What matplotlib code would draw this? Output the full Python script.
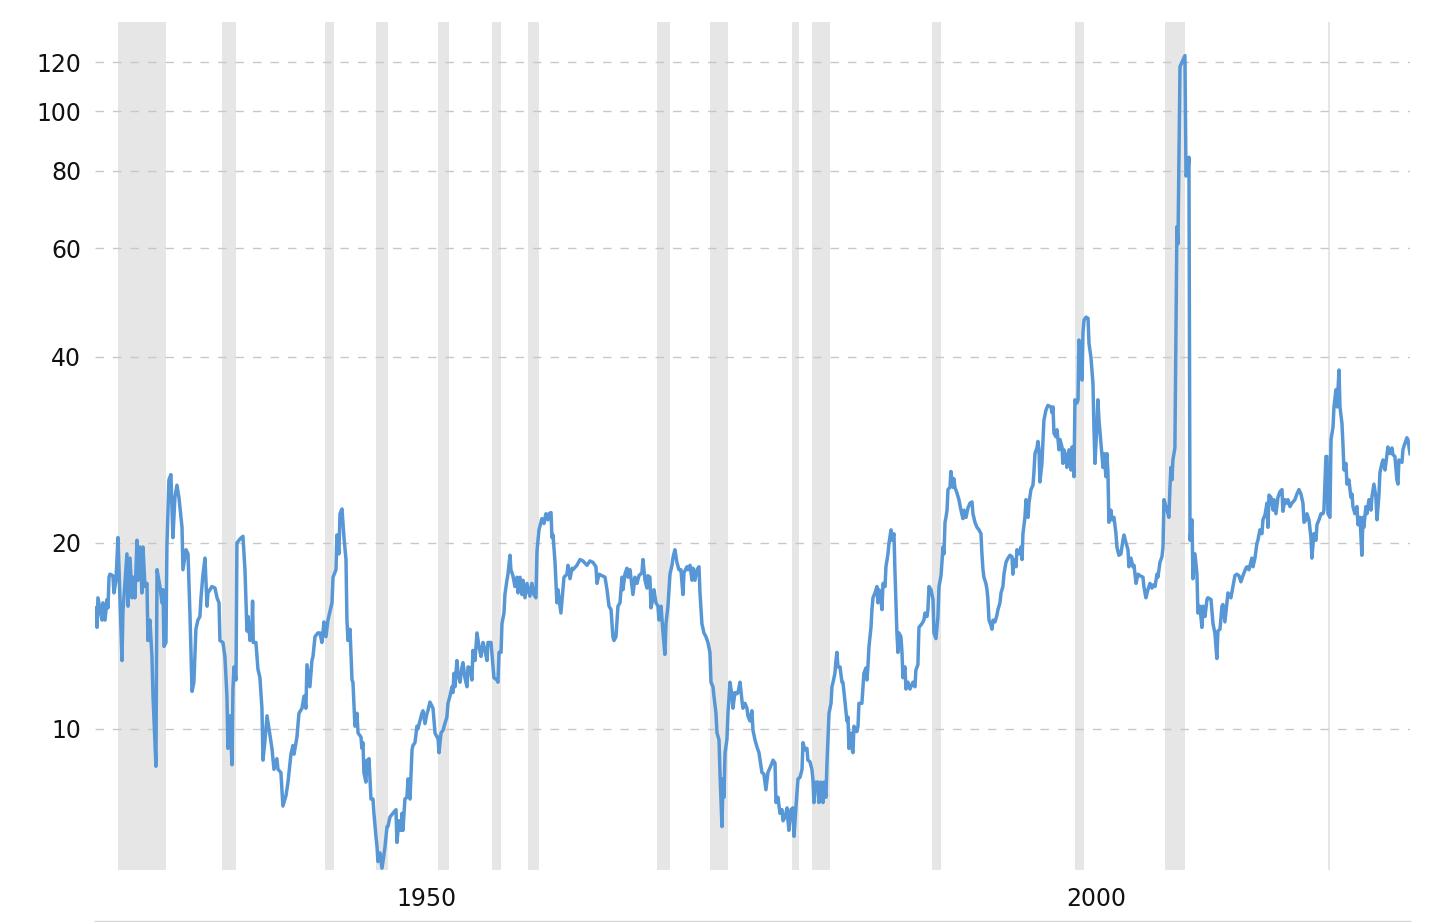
import matplotlib.pyplot as plt
from matplotlib.ticker import NullLocator

# S&P 500 price / earnings ratio
years = [
    1927.88, 1928.03, 1928.10, 1928.40, 1928.48, 1928.63, 1928.78, 1928.85, 1928.93, 1929.00,
    1929.22, 1929.30, 1929.45, 1929.60, 1929.90, 1929.97, 1930.27, 1930.35, 1930.50, 1930.65,
    1930.72, 1930.87, 1931.02, 1931.09, 1931.25, 1931.39, 1931.47, 1931.62, 1931.77, 1931.84,
    1931.99, 1932.14, 1932.22, 1932.44, 1932.52, 1932.74, 1932.89, 1932.97, 1933.04, 1933.19,
    1933.26, 1933.41, 1933.56, 1933.71, 1933.86, 1934.01, 1934.16, 1934.39, 1934.46, 1934.69,
    1934.84, 1934.99, 1935.14, 1935.28, 1935.43, 1935.58, 1935.73, 1935.81, 1935.96, 1936.11,
    1936.26, 1936.33, 1936.63, 1936.86, 1937.01, 1937.16, 1937.23, 1937.45, 1937.60, 1937.75,
    1937.83, 1937.98, 1938.13, 1938.20, 1938.28, 1938.43, 1938.50, 1938.73, 1938.95, 1939.10,
    1939.25, 1939.33, 1939.48, 1939.62, 1939.67, 1939.72, 1939.92, 1940.07, 1940.22, 1940.37,
    1940.45, 1940.60, 1940.75, 1940.90, 1941.12, 1941.27, 1941.49, 1941.57, 1941.79, 1941.94,
    1942.17, 1942.32, 1942.54, 1942.69, 1942.77, 1942.99, 1943.14, 1943.37, 1943.52, 1943.66,
    1943.74, 1943.96, 1944.11, 1944.19, 1944.34, 1944.56, 1944.71, 1944.86, 1945.01, 1945.16,
    1945.31, 1945.61, 1945.69, 1945.91, 1945.98, 1946.13, 1946.21, 1946.36, 1946.51, 1946.66,
    1946.73, 1946.81, 1946.96, 1947.11, 1947.18, 1947.33, 1947.48, 1947.56, 1947.78, 1947.85,
    1947.93, 1948.00, 1948.15, 1948.23, 1948.30, 1948.38, 1948.53, 1948.68, 1948.75, 1948.90,
    1948.98, 1949.05, 1949.20, 1949.35, 1949.43, 1949.58, 1949.73, 1949.80, 1949.95, 1950.17,
    1950.40, 1950.47, 1950.62, 1950.77, 1950.85, 1950.92, 1951.07, 1951.22, 1951.30, 1951.45,
    1951.60, 1951.67, 1951.82, 1951.97, 1952.04, 1952.19, 1952.34, 1952.42, 1952.57, 1952.72,
    1952.79, 1952.94, 1953.17, 1953.32, 1953.47, 1953.54, 1953.62, 1953.77, 1953.92, 1954.06,
    1954.21, 1954.29, 1954.44, 1954.59, 1954.66, 1954.74, 1954.81, 1954.96, 1955.04, 1955.19,
    1955.34, 1955.41, 1955.56, 1955.71, 1955.79, 1955.94, 1956.08, 1956.16, 1956.31, 1956.46,
    1956.61, 1956.76, 1956.91, 1957.06, 1957.21, 1957.28, 1957.51, 1957.66, 1957.73, 1957.96,
    1958.03, 1958.11, 1958.26, 1958.33, 1958.48, 1958.55, 1958.70, 1958.78, 1958.93, 1959.00,
    1959.15, 1959.30, 1959.45, 1959.53, 1959.68, 1959.83, 1959.90, 1960.05, 1960.20, 1960.42,
    1960.57, 1960.72, 1960.87, 1960.95, 1961.10, 1961.32, 1961.47, 1961.62, 1961.77, 1961.85,
    1962.00, 1962.07, 1962.15, 1962.30, 1962.44, 1962.52, 1962.67, 1962.74, 1962.89, 1962.97,
    1963.19, 1963.27, 1963.42, 1963.57, 1963.64, 1963.94, 1964.17, 1964.39, 1964.69, 1964.91,
    1965.14, 1965.36, 1965.44, 1965.59, 1965.81, 1966.04, 1966.19, 1966.34, 1966.49, 1966.63,
    1966.71, 1966.86, 1967.01, 1967.16, 1967.31, 1967.38, 1967.53, 1967.68, 1967.76, 1967.91,
    1968.13, 1968.28, 1968.43, 1968.58, 1968.80, 1968.88, 1969.03, 1969.18, 1969.25, 1969.40,
    1969.48, 1969.63, 1969.70, 1969.85, 1970.00, 1970.08, 1970.23, 1970.38, 1970.52, 1970.60,
    1970.75, 1970.90, 1971.05, 1971.12, 1971.27, 1971.42, 1971.57, 1971.72, 1971.87, 1971.95,
    1972.17, 1972.25, 1972.40, 1972.55, 1972.62, 1972.77, 1972.92, 1973.07, 1973.14, 1973.29,
    1973.44, 1973.59, 1973.74, 1973.89, 1973.97, 1974.12, 1974.19, 1974.34, 1974.42, 1974.57,
    1974.64, 1974.79, 1974.87, 1974.94, 1975.02, 1975.16, 1975.24, 1975.39, 1975.54, 1975.61,
    1975.76, 1975.91, 1975.99, 1976.14, 1976.29, 1976.36, 1976.51, 1976.66, 1976.73, 1976.88,
    1977.03, 1977.11, 1977.26, 1977.41, 1977.56, 1977.78, 1977.93, 1978.08, 1978.23, 1978.53,
    1978.61, 1978.76, 1978.83, 1978.98, 1979.13, 1979.28, 1979.36, 1979.51, 1979.66, 1979.73,
    1979.80, 1979.95, 1980.10, 1980.18, 1980.33, 1980.48, 1980.63, 1980.78, 1980.85, 1981.00,
    1981.15, 1981.22, 1981.37, 1981.52, 1981.60, 1981.67, 1981.82, 1981.97, 1982.05, 1982.20,
    1982.35, 1982.42, 1982.57, 1982.65, 1982.80, 1982.95, 1983.02, 1983.10, 1983.24, 1983.32,
    1983.39, 1983.47, 1983.62, 1983.77, 1983.84, 1983.99, 1984.14, 1984.22, 1984.29, 1984.44,
    1984.52, 1984.59, 1984.67, 1984.89, 1984.97, 1985.04, 1985.26, 1985.34, 1985.41, 1985.56,
    1985.64, 1985.71, 1985.79, 1985.94, 1986.01, 1986.09, 1986.24, 1986.39, 1986.46, 1986.54,
    1986.69, 1986.76, 1986.84, 1986.99, 1987.06, 1987.21, 1987.29, 1987.44, 1987.51, 1987.66,
    1987.73, 1987.88, 1987.96, 1988.03, 1988.18, 1988.26, 1988.33, 1988.48, 1988.56, 1988.71,
    1988.86, 1989.08, 1989.23, 1989.30, 1989.45, 1989.53, 1989.75, 1989.90, 1989.98, 1990.13,
    1990.20, 1990.28, 1990.43, 1990.58, 1990.65, 1990.80, 1990.95, 1991.03, 1991.18, 1991.33,
    1991.40, 1991.48, 1991.55, 1991.63, 1991.70, 1991.85, 1991.92, 1992.07, 1992.15, 1992.22,
    1992.37, 1992.52, 1992.67, 1992.82, 1992.90, 1993.05, 1993.20, 1993.35, 1993.50, 1993.57,
    1993.72, 1993.87, 1994.02, 1994.17, 1994.24, 1994.32, 1994.39, 1994.54, 1994.62, 1994.69,
    1994.77, 1994.92, 1994.99, 1995.07, 1995.22, 1995.37, 1995.44, 1995.59, 1995.67, 1995.81,
    1995.89, 1996.04, 1996.19, 1996.34, 1996.49, 1996.56, 1996.64, 1996.79, 1996.86, 1997.01,
    1997.16, 1997.24, 1997.31, 1997.46, 1997.54, 1997.69, 1997.76, 1997.91, 1998.06, 1998.13,
    1998.21, 1998.36, 1998.43, 1998.51, 1998.58, 1998.73, 1998.81, 1998.88, 1999.03, 1999.18,
    1999.41, 1999.48, 1999.56, 1999.63, 1999.78, 1999.86, 2000.01, 2000.08, 2000.23, 2000.30,
    2000.38, 2000.53, 2000.60, 2000.75, 2000.90, 2000.98, 2001.13, 2001.17, 2001.20, 2001.35,
    2001.43, 2001.50, 2001.65, 2001.73, 2001.80, 2001.88, 2002.03, 2002.18, 2002.25, 2002.40,
    2002.55, 2002.62, 2002.70, 2002.85, 2002.92, 2003.00, 2003.15, 2003.30, 2003.37, 2003.52,
    2003.59, 2003.67, 2003.74, 2003.89, 2003.97, 2004.12, 2004.27, 2004.34, 2004.49, 2004.64,
    2004.79, 2004.87, 2005.02, 2005.17, 2005.24, 2005.39, 2005.54, 2005.62, 2005.77, 2005.92,
    2006.07, 2006.29, 2006.36, 2006.51, 2006.66, 2006.81, 2006.96, 2007.04, 2007.19, 2007.34,
    2007.41, 2007.56, 2007.71, 2007.79, 2007.86, 2008.01, 2008.09, 2008.23, 2008.31, 2008.38,
    2008.46, 2008.53, 2008.61, 2008.68, 2008.83, 2008.91, 2009.06, 2009.21, 2009.28, 2009.43,
    2009.51, 2009.66, 2009.73, 2009.81, 2009.96, 2010.03, 2010.18, 2010.33, 2010.40, 2010.55,
    2010.70, 2010.78, 2010.93, 2011.08, 2011.15, 2011.38, 2011.53, 2011.67, 2011.82, 2011.90,
    2012.05, 2012.20, 2012.27, 2012.42, 2012.57, 2012.65, 2012.87, 2013.02, 2013.17, 2013.32,
    2013.47, 2013.62, 2013.77, 2013.99, 2014.07, 2014.22, 2014.44, 2014.52, 2014.67, 2014.82,
    2014.89, 2015.04, 2015.19, 2015.27, 2015.42, 2015.57, 2015.64, 2015.72, 2015.87, 2016.02,
    2016.09, 2016.24, 2016.39, 2016.54, 2016.69, 2016.76, 2016.91, 2017.06, 2017.14, 2017.29,
    2017.44, 2017.66, 2017.81, 2017.96, 2018.11, 2018.26, 2018.34, 2018.49, 2018.56, 2018.71,
    2018.86, 2018.93, 2019.08, 2019.23, 2019.31, 2019.46, 2019.61, 2019.76, 2019.83, 2019.98,
    2020.06, 2020.13, 2020.28, 2020.36, 2020.51, 2020.58, 2020.73, 2020.81, 2020.96, 2021.03,
    2021.18, 2021.25, 2021.33, 2021.48, 2021.55, 2021.70, 2021.85, 2021.93, 2022.00, 2022.15,
    2022.30, 2022.38, 2022.53, 2022.67, 2022.75, 2022.82, 2022.97, 2023.05, 2023.20, 2023.35,
    2023.42, 2023.57, 2023.72, 2023.80, 2023.95, 2024.02, 2024.17, 2024.25, 2024.40, 2024.55,
    2024.62, 2024.77, 2024.92, 2024.99, 2025.14, 2025.29, 2025.37, 2025.44, 2025.67, 2025.74,
    2025.89, 2026.04, 2026.11, 2026.27,
]

pe = [
    15.7, 14.6, 16.3, 15.0, 16.0, 15.0, 16.2, 15.7, 17.6, 17.8,
    17.7, 16.6, 17.4, 20.4, 12.9, 15.5, 19.2, 15.8, 18.9, 16.3,
    17.6, 16.3, 20.2, 17.4, 19.7, 16.6, 19.7, 17.0, 17.2, 13.9,
    15.0, 13.1, 11.3, 8.7, 18.1, 17.0, 16.0, 16.8, 13.6, 13.8,
    19.7, 25.3, 25.8, 20.4, 23.7, 24.8, 23.7, 21.2, 18.1, 19.5,
    19.2, 15.2, 11.5, 11.9, 14.5, 15.0, 15.2, 16.3, 17.8, 18.9,
    15.8, 16.6, 17.0, 16.9, 16.3, 16.0, 13.9, 13.8, 13.1, 11.3,
    9.3, 10.5, 8.75, 11.6, 12.6, 12.0, 20.0, 20.3, 20.5, 18.1,
    14.4, 15.2, 13.9, 14.6, 16.1, 13.8, 13.8, 12.5, 12.1, 10.8,
    8.9, 9.6, 10.5, 10.0, 9.3, 8.6, 8.95, 8.6, 8.5, 7.5,
    7.8, 8.2, 9.1, 9.4, 9.1, 9.7, 10.6, 10.8, 11.3, 10.8,
    12.7, 11.7, 12.9, 13.1, 14.1, 14.3, 14.3, 13.8, 14.9, 14.1,
    15.0, 16.0, 17.6, 18.1, 20.6, 19.2, 22.3, 22.7, 20.4, 18.8,
    15.0, 13.9, 14.5, 12.0, 11.9, 10.1, 10.6, 9.85, 9.7, 9.3,
    9.5, 8.5, 8.2, 8.9, 8.5, 8.95, 7.7, 7.7, 7.3, 6.7,
    6.45, 6.1, 6.3, 5.95, 6.1, 6.45, 6.95, 6.95, 7.2, 7.3,
    7.4, 6.55, 7.1, 6.85, 7.3, 6.85, 7.7, 7.75, 8.3, 7.7,
    9.25, 9.4, 9.5, 10.1, 10.0, 10.3, 10.6, 10.7, 10.2, 10.6,
    10.7, 11.05, 10.8, 9.85, 9.7, 9.7, 9.15, 9.85, 9.95, 10.2,
    10.45, 11.0, 11.3, 11.7, 11.45, 12.3, 11.7, 12.9, 12.3, 11.9,
    12.6, 12.8, 12.1, 11.7, 12.6, 12.55, 12.0, 13.4, 12.9, 14.3,
    13.6, 13.1, 13.8, 13.4, 12.9, 13.8, 13.8, 12.6, 12.1, 12.0,
    11.9, 13.3, 13.3, 14.8, 15.4, 16.5, 17.4, 17.8, 19.1, 18.1,
    17.7, 17.0, 17.6, 16.6, 17.6, 16.5, 17.4, 16.3, 17.2, 16.4,
    17.2, 16.5, 16.3, 19.4, 21.0, 21.9, 21.5, 22.3, 21.8, 22.3,
    22.4, 20.4, 20.6, 18.6, 16.0, 16.8, 15.8, 15.4, 16.8, 17.6,
    17.8, 18.4, 17.5, 18.2, 18.1, 18.4, 18.8, 18.7, 18.4, 18.7,
    18.6, 18.3, 17.2, 17.8, 17.7, 17.6, 16.8, 15.8, 15.6, 14.1,
    13.9, 14.1, 15.8, 16.0, 17.6, 16.8, 17.8, 18.2, 17.6, 18.1,
    16.5, 17.6, 17.2, 17.7, 17.9, 18.8, 17.4, 16.9, 17.7, 17.6,
    15.7, 16.3, 16.8, 16.0, 15.8, 15.0, 15.8, 14.3, 13.2, 14.8,
    15.8, 17.8, 18.4, 18.9, 19.5, 18.6, 18.1, 18.1, 16.5, 17.9,
    18.3, 18.1, 18.4, 17.4, 18.2, 17.4, 18.1, 18.3, 16.7, 14.8,
    14.3, 14.1, 13.8, 13.3, 11.9, 11.7, 11.3, 10.6, 9.85, 9.6,
    8.5, 6.95, 8.3, 7.75, 9.15, 9.6, 10.6, 11.9, 11.3, 10.8,
    11.45, 11.4, 11.45, 11.9, 11.1, 10.8, 11.0, 10.8, 10.5, 10.3,
    10.7, 9.95, 9.6, 9.35, 9.15, 8.5, 8.45, 7.97, 8.5, 8.8,
    8.9, 8.8, 7.6, 7.75, 7.3, 7.4, 7.1, 7.2, 7.45, 7.1,
    6.85, 7.4, 7.45, 6.7, 7.5, 8.3, 8.35, 8.6, 9.5, 9.25,
    9.3, 8.9, 8.85, 8.6, 8.27, 7.6, 8.2, 8.2, 7.6, 8.2,
    7.6, 8.2, 7.75, 8.85, 10.6, 11.0, 11.7, 11.9, 12.3, 12.9,
    13.3, 12.6, 12.6, 11.9, 11.9, 11.1, 10.3, 10.45, 9.3, 9.85,
    9.3, 9.15, 10.1, 9.9, 10.1, 11.0, 11.0, 11.7, 12.3, 12.55,
    12.0, 12.6, 13.6, 14.6, 15.6, 16.3, 16.6, 17.0, 16.0, 16.8,
    16.2, 15.6, 17.2, 17.0, 18.3, 19.2, 20.0, 21.0, 20.2, 20.7,
    18.1, 14.3, 13.3, 14.3, 14.1, 13.3, 12.1, 12.6, 11.6, 11.9,
    11.6, 11.9, 11.7, 12.45, 12.7, 14.6, 14.8, 15.0, 15.4, 15.2,
    15.6, 17.0, 16.8, 16.2, 14.3, 14.0, 15.2, 17.0, 17.7, 19.7,
    19.2, 21.6, 22.0, 22.6, 24.4, 24.6, 26.1, 24.6, 25.4, 24.6,
    24.1, 23.5, 22.6, 21.9, 22.6, 22.0, 22.8, 23.2, 23.3, 22.3,
    21.6, 21.2, 21.0, 20.7, 19.2, 18.1, 17.6, 17.2, 16.8, 16.2,
    15.0, 14.7, 14.5, 15.0, 14.9, 15.3, 15.6, 16.0, 16.6, 17.0,
    17.8, 18.6, 18.9, 19.1, 19.0, 17.8, 18.8, 18.3, 19.5, 19.2,
    19.7, 18.8, 20.7, 22.0, 23.5, 22.0, 23.2, 24.4, 24.8, 26.0,
    27.9, 28.5, 29.2, 28.3, 25.1, 26.9, 29.4, 31.6, 32.8, 33.4,
    33.2, 32.5, 33.2, 30.1, 29.7, 30.5, 28.3, 29.4, 28.6, 26.9,
    28.3, 27.6, 26.5, 28.3, 26.25, 28.6, 25.6, 30.1, 34.1, 33.7,
    34.1, 42.6, 40.6, 36.7, 43.7, 45.9, 46.4, 46.2, 42.1, 39.9,
    36.2, 30.8, 26.9, 31.2, 34.1, 31.6, 29.0, 26.5, 27.9, 25.6,
    27.9, 26.0, 21.6, 22.6, 21.8, 22.0, 20.7, 19.7, 19.1, 19.2,
    20.2, 20.6, 20.0, 19.5, 18.3, 18.9, 18.3, 18.4, 17.2, 17.8,
    17.7, 17.6, 17.0, 16.3, 16.8, 17.2, 16.9, 17.1, 17.0, 17.8,
    17.6, 18.6, 19.0, 19.7, 23.5, 22.9, 22.6, 22.0, 24.6, 26.5,
    25.3, 27.25, 27.9, 28.5, 65.0, 61.0, 118.0, 120.0, 121.0, 123.0,
    78.5, 80.0, 84.2, 20.2, 21.8, 17.5, 19.2, 17.8, 15.4, 15.8,
    14.6, 15.8, 15.2, 16.2, 16.3, 16.2, 14.8, 14.3, 13.0, 14.4,
    14.5, 15.8, 15.9, 14.9, 16.0, 16.6, 16.3, 17.0, 17.7, 17.8,
    17.7, 17.3, 17.7, 18.2, 18.3, 18.1, 18.9, 18.3, 18.9, 20.0,
    20.2, 21.0, 20.7, 21.8, 22.2, 23.2, 21.2, 23.9, 23.7, 22.6,
    23.5, 22.3, 23.7, 24.2, 24.4, 22.5, 23.5, 23.2, 23.5, 22.9,
    23.2, 23.5, 24.0, 24.4, 24.0, 23.2, 21.6, 21.8, 22.3, 21.8,
    20.4, 18.9, 20.7, 20.2, 21.4, 21.8, 22.3, 22.3, 22.6, 27.6,
    27.6, 22.3, 22.0, 29.4, 30.8, 33.2, 35.4, 33.2, 38.1, 33.2,
    31.2, 29.0, 26.25, 26.9, 24.9, 25.3, 23.7, 24.0, 22.9, 22.3,
    22.9, 21.4, 22.0, 19.1, 22.0, 21.2, 22.9, 22.3, 23.5, 22.6,
    23.7, 24.9, 23.7, 21.8, 24.0, 26.0, 26.9, 27.25, 26.25, 27.8,
    28.6, 27.9, 28.5, 27.8, 27.6, 25.3, 24.9, 27.25, 27.0, 28.3,
    29.0, 29.6, 29.4, 27.9,
]

# US recessions (shaded)
rec_start = [1929.58, 1937.37, 1945.12, 1948.87, 1953.54, 1957.62, 1960.29, 1969.96,
             1973.87, 1980.04, 1981.54, 1990.54, 2001.21, 2007.96, 2020.12]
rec_end = [1933.21, 1938.46, 1945.79, 1949.79, 1954.37, 1958.29, 1961.12, 1970.87,
           1975.21, 1980.54, 1982.87, 1991.21, 2001.87, 2009.46, 2020.29]

y_ticks = [10, 20, 40, 60, 80, 100, 120]
x_tick_pos = [1952.72, 2002.77]
x_tick_labels = ['1950', '2000']

plt.rcParams['font.family'] = ['DejaVu Sans']

fig = plt.figure(figsize=(14.56, 9.22), dpi=100)
ax = fig.add_axes([95 / 1456, 52 / 922, 1315 / 1456, 848 / 922])

for a, b in zip(rec_start, rec_end):
    ax.axvspan(a, b, color='#e6e6e6', lw=0, zorder=0)

for v in y_ticks:
    ax.axhline(v, color='#c8c8c8', lw=1.0, ls=(0, (6.1, 6.5)), zorder=1)

ax.plot(years, pe, color='#5897d5', lw=2.5, solid_joinstyle='round', zorder=3)

ax.set_yscale('log')
ax.set_ylim(5.91, 139.4)
ax.set_xlim(1927.88, 2026.27)

ax.set_yticks(y_ticks)
ax.set_yticklabels([str(v) for v in y_ticks])
ax.yaxis.set_minor_locator(NullLocator())
ax.set_xticks(x_tick_pos)
ax.set_xticklabels(x_tick_labels)
ax.xaxis.set_minor_locator(NullLocator())

ax.tick_params(axis='y', length=0, labelsize=17, pad=10, labelcolor='#111111')
ax.tick_params(axis='x', length=0, labelsize=17, pad=12, labelcolor='#111111')

for s in ax.spines.values():
    s.set_visible(False)

# thin base line under the date labels
ax.plot([0, 1], [-0.0596, -0.0596], transform=ax.transAxes, clip_on=False,
        color='#d6d6d6', lw=1.0)

fig.savefig('out.png', dpi=100)
